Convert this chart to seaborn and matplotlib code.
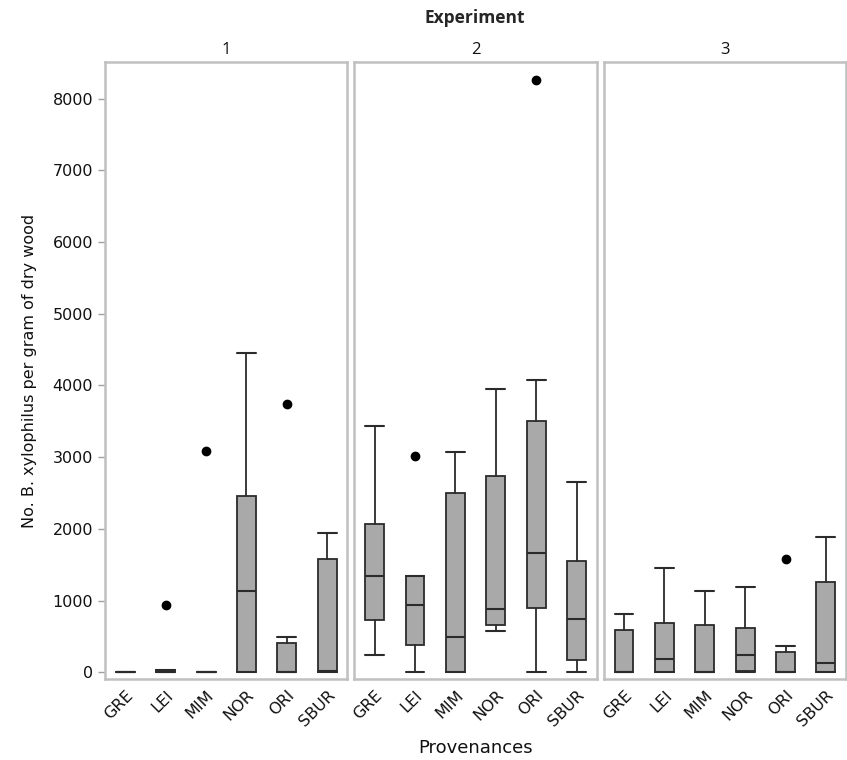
import matplotlib
matplotlib.use("Agg")
import matplotlib.pyplot as plt
import seaborn as sns

# Box statistics (one inner list per experiment)
provenances = ["GRE", "LEI", "MIM", "NOR", "ORI", "SBUR"]
experiments = ["1", "2", "3"]

whisker_low = [[0, 0, 0, 0, 0, 0],
               [237, 0, 0, 580, 0, 0],
               [0, 0, 0, 0, 0, 0]]
q1 = [[0, 0, 0, 0, 0, 0],
      [724, 380, 0, 659, 896, 171],
      [0, 0, 0, 15, 0, 0]]
median = [[0, 10, 0, 1137, 0, 15],
          [1347, 938, 497, 882, 1667, 747],
          [0, 190, 0, 237, 0, 134]]
q3 = [[0, 30, 0, 2457, 404, 1575],
      [2072, 1340, 2499, 2731, 3498, 1556],
      [594, 683, 659, 622, 279, 1258]]
whisker_high = [[0, 30, 0, 4446, 492, 1941],
                [3433, 1340, 3075, 3948, 4078, 2648],
                [808, 1449, 1133, 1193, 362, 1881]]

outlier_exp = ["1", "1", "1", "2", "2", "3"]
outlier_prov = ["LEI", "MIM", "ORI", "LEI", "ORI", "ORI"]
outlier_val = [938, 3080, 3739, 3019, 8265, 1584]

sns.set_style("white")
plt.rcParams["font.family"] = ["DejaVu Sans"]

fig, axes = plt.subplots(1, 3, sharey=True, figsize=(8.47, 7.6), dpi=100)
fig.subplots_adjust(left=0.124, right=0.999, bottom=0.1066, top=0.918, wspace=0.029)

for i, ax in enumerate(axes):
    exp = experiments[i]
    stats = []
    for j, prov in enumerate(provenances):
        fl = [v for e, p, v in zip(outlier_exp, outlier_prov, outlier_val)
              if e == exp and p == prov]
        stats.append({"whislo": whisker_low[i][j], "q1": q1[i][j],
                      "med": median[i][j], "q3": q3[i][j],
                      "whishi": whisker_high[i][j], "fliers": fl})
    ax.bxp(stats, positions=range(len(provenances)), widths=0.47,
           capwidths=0.47, patch_artist=True, showfliers=True,
           boxprops=dict(facecolor="#a9a9a9", edgecolor="#2b2b2b", linewidth=1.3),
           medianprops=dict(color="#2b2b2b", linewidth=1.5),
           whiskerprops=dict(color="#2b2b2b", linewidth=1.3),
           capprops=dict(color="#2b2b2b", linewidth=1.5),
           flierprops=dict(marker="o", markerfacecolor="black",
                           markeredgecolor="black", markersize=6))
    ax.set_xlim(-0.5, len(provenances) - 0.5)
    ax.set_ylim(-93, 8506)
    ax.set_xticks(range(len(provenances)))
    ax.set_xticklabels(provenances, rotation=45, ha="right",
                       rotation_mode="anchor", fontsize=11.5, color="#111111")
    ax.tick_params(axis="x", length=0, pad=6)
    for s in ax.spines.values():
        s.set_color("#c0c0c0")
        s.set_linewidth(1.8)
    ax.set_title(exp, fontsize=12, family="Open Sans", pad=6, color="#111111")
    if i == 0:
        ax.set_yticks(range(0, 8001, 1000))
        ax.tick_params(axis="y", length=5, color="#a0a0a0", width=1,
                       labelsize=11.5, labelcolor="#111111", left=True)
    else:
        ax.tick_params(axis="y", left=False)

axes[0].set_ylabel("No. B. xylophilus per gram of dry wood", fontsize=11.5,
                   labelpad=11, color="#111111")
fig.text(0.561, 0.004, "Provenances", ha="center", va="bottom", fontsize=13,
         color="#111111")
fig.text(0.561, 0.976, "Experiment", ha="center", va="center",
         fontsize=12.5, fontweight="bold", family="Open Sans")

fig.savefig("out.png", dpi=100)
